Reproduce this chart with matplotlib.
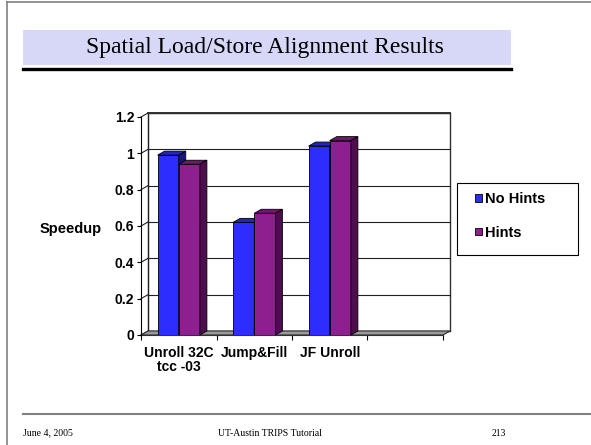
import numpy as np
import matplotlib
matplotlib.use("Agg")
import matplotlib.pyplot as plt
from matplotlib.patches import Polygon, Rectangle, Patch
from matplotlib.lines import Line2D

# Speedup per benchmark (last slot is an empty category)
categories = ["Unroll 32C\ntcc -03", "Jump&Fill", "JF Unroll", ""]
no_hints = [0.99, 0.62, 1.04, np.nan]
hints = [0.94, 0.67, 1.07, np.nan]
series_names = ["No Hints", "Hints"]
yticks = [0, 0.2, 0.4, 0.6, 0.8, 1.0, 1.2]
ytick_labels = ["0", "0.2", "0.4", "0.6", "0.8", "1", "1.2"]

W, H = 591, 445
SANS = "Liberation Sans"
SERIF = "Liberation Serif"

# face colours: front, top, side
blue = ("#2d2dff", "#2424c4", "#15157a")
purple = ("#8e1f8f", "#701672", "#4c0e4d")

fig = plt.figure(figsize=(W / 100, H / 100), dpi=100)
fig.patch.set_facecolor("white")


def fx(px):
    return px / W


def fy(py):
    return 1 - py / H


# slide frame, title band and footer
fig.add_artist(Line2D([fx(7), fx(7)], [fy(1.5), 0], color="#808080", lw=1.2))
fig.add_artist(Line2D([fx(7), 1], [fy(1.5), fy(1.5)], color="#808080", lw=1.2))
fig.add_artist(Rectangle((fx(23), fy(65)), fx(511) - fx(23), fy(30) - fy(65),
                         transform=fig.transFigure, facecolor="#d7d7f8", edgecolor="none"))
fig.add_artist(Line2D([fx(23), fx(511)], [fy(68.5), fy(68.5)], color="black", lw=2.4))
fig.text(fx(265), fy(47.5), "Spatial Load/Store Alignment Results", family=SERIF,
         fontsize=17, ha="center", va="center")
fig.add_artist(Line2D([fx(23), 1], [fy(414), fy(414)], color="#808080", lw=1.5))
fig.text(fx(23), fy(433), "June 4, 2005", family=SERIF, fontsize=7, ha="left", va="center")
fig.text(fx(270), fy(433), "UT-Austin TRIPS Tutorial", family=SERIF, fontsize=7,
         ha="center", va="center")
fig.text(fx(506), fy(433), "213", family=SERIF, fontsize=7, ha="right", va="center")

# chart front plane
ax = fig.add_axes([fx(141), fy(335), fx(443) - fx(141), fy(117) - fy(335)])
ax.set_xlim(-0.5, len(categories) - 0.5)
ax.set_ylim(0, 1.2)
ax.patch.set_visible(False)

# depth offset of the 3D effect, in data units
dx = 7 / (302 / len(categories))
dy = 4 / (218 / 1.2)
x0, x1 = -0.5, len(categories) - 0.5
ymax = yticks[-1]

# back wall and side wall
ax.add_patch(Polygon([(x0 + dx, dy), (x1 + dx, dy), (x1 + dx, ymax + dy), (x0 + dx, ymax + dy)],
                     closed=True, facecolor="white", edgecolor="#303030", lw=1.0,
                     clip_on=False, zorder=0.5))
for v in yticks:
    ax.plot([x0 + dx, x1 + dx], [v + dy, v + dy], color="#202020", lw=0.8,
            clip_on=False, zorder=0.6)
    ax.plot([x0, x0 + dx], [v, v + dy], color="#202020", lw=0.8, clip_on=False, zorder=0.6)
ax.plot([x0 + dx, x0 + dx], [dy, ymax + dy], color="#202020", lw=0.8, clip_on=False, zorder=0.6)
ax.plot([x0 + dx, x1 + dx], [ymax + dy, ymax + dy], color="#303030", lw=1.4,
        clip_on=False, zorder=0.7)

# floor
ax.add_patch(Polygon([(x0, 0), (x1, 0), (x1 + dx, dy), (x0 + dx, dy)], closed=True,
                     facecolor="#9a9a9a", edgecolor="#303030", lw=0.8, clip_on=False, zorder=1))

# bars
x = np.arange(len(categories))
bw = 0.28
for vals, off, cols in ((no_hints, -bw / 2, blue), (hints, bw / 2, purple)):
    ax.bar(x + off, vals, width=bw, color=cols[0], edgecolor="black", lw=0.6, zorder=3)
    for xi, v in zip(x + off, vals):
        if np.isnan(v):
            continue
        l, r = xi - bw / 2, xi + bw / 2
        ax.add_patch(Polygon([(l, v), (r, v), (r + dx, v + dy), (l + dx, v + dy)], closed=True,
                             facecolor=cols[1], edgecolor="black", lw=0.6, zorder=3,
                             clip_on=False))
        ax.add_patch(Polygon([(r, 0), (r, v), (r + dx, v + dy), (r + dx, dy)], closed=True,
                             facecolor=cols[2], edgecolor="black", lw=0.6, zorder=3,
                             clip_on=False))

# axes styling
for s in ("top", "right"):
    ax.spines[s].set_visible(False)
ax.spines["left"].set_color("black")
ax.spines["bottom"].set_color("#303030")
ax.spines["left"].set_zorder(4)

ax.set_yticks(yticks)
ax.set_yticklabels(ytick_labels, family=SANS, fontweight="bold", fontsize=10)
ax.tick_params(axis="y", length=3, width=0.8, pad=2, color="black")

ax.set_xticks(x)
ax.set_xticklabels(categories, family=SANS, fontweight="bold", fontsize=10, linespacing=1.0)
ax.set_xticks(np.arange(len(categories) + 1) - 0.5, minor=True)
ax.tick_params(axis="x", which="major", length=0, pad=8)
ax.tick_params(axis="x", which="minor", length=3.5, width=0.8, color="black")

ax.set_ylabel("Speedup", rotation=0, family=SANS, fontweight="bold", fontsize=10.5,
              ha="center", va="center")
ax.yaxis.set_label_coords((71 - 141) / 302, (335 - 229) / 218)

# legend box
fig.add_artist(Rectangle((fx(457), fy(255)), fx(578) - fx(457), fy(183) - fy(255),
                         transform=fig.transFigure, facecolor="white", edgecolor="black", lw=0.8))
handles = [Patch(facecolor=blue[0], edgecolor="black", lw=0.6),
           Patch(facecolor=purple[0], edgecolor="black", lw=0.6)]
fig.legend(handles, series_names, loc="upper left", bbox_to_anchor=(fx(475), fy(192)),
           frameon=False, prop={"family": SANS, "weight": "bold", "size": 10.5},
           handlelength=0.45, handleheight=0.45, handletextpad=0.25, labelspacing=1.35,
           borderpad=0, borderaxespad=0)

fig.savefig("out.png", dpi=100)
